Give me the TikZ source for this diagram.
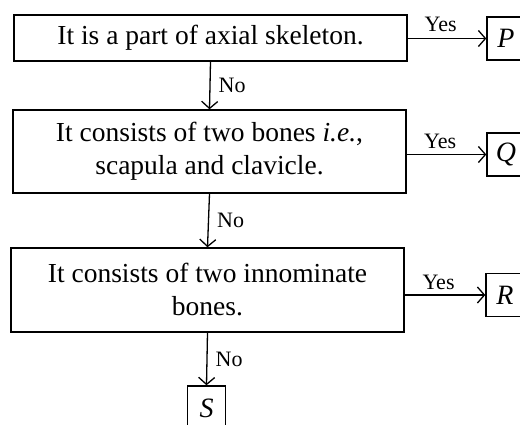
\documentclass[tikz,border=0pt]{standalone}
\usepackage{fontspec}
\setmainfont{Liberation Serif}
\usetikzlibrary{arrows.meta}
\tikzset{
  qbox/.style={draw, line width=1.4pt, inner sep=0pt, align=center,
    font=\fontsize{27.5}{33}\selectfont, minimum width=393pt},
  lbox/.style={draw, line width=1.4pt, inner sep=0pt,
    font=\fontsize{28}{33}\selectfont\itshape, minimum width=38pt, minimum height=43pt},
  lbl/.style={font=\fontsize{22}{24}\selectfont, inner sep=2pt},
  arr/.style={line width=1.3pt, -{Straight Barb[length=7pt,width=16pt,line width=1.3pt]}}
}
\begin{document}
\begin{tikzpicture}[x=1pt,y=-1pt]
\useasboundingbox (0,0) rectangle (520,425);
\clip (0,0) rectangle (520,425);
\node[qbox, minimum height=46pt] (b1) at (210.5,38) {It is a part of axial skeleton.};
\node[qbox, minimum height=83pt] (b2) at (209.5,151.5) {It consists of two bones \textit{i.e.},\\scapula and clavicle.};
\node[qbox, minimum height=84pt] (b3) at (207.5,290) {It consists of two innominate\\bones.};
\node[lbox] (P) at (506,38.5) {P};
\node[lbox] (Q) at (506,154.5) {Q};
\node[lbox] (R) at (505,295) {R};
\node[lbox, minimum height=44pt] (S) at (206.5,408) {S};
\draw[arr] (P.west -| b1.east) -- node[lbl, pos=0.42, above=4pt] {Yes} (P.west);
\draw[arr] (Q.west -| b2.east) -- node[lbl, pos=0.42, above=3pt] {Yes} (Q.west);
\draw[arr] (R.west -| b3.east) -- node[lbl, pos=0.42, above=3pt] {Yes} (R.west);
\draw[arr] (b1.south) -- node[lbl, midway, right=6pt] {No} (b2.north);
\draw[arr] (b2.south) -- node[lbl, midway, right=6pt] {No} (b3.north);
\draw[arr] (b3.south) -- node[lbl, midway, right=6pt] {No} (S.north);
\end{tikzpicture}
\end{document}
